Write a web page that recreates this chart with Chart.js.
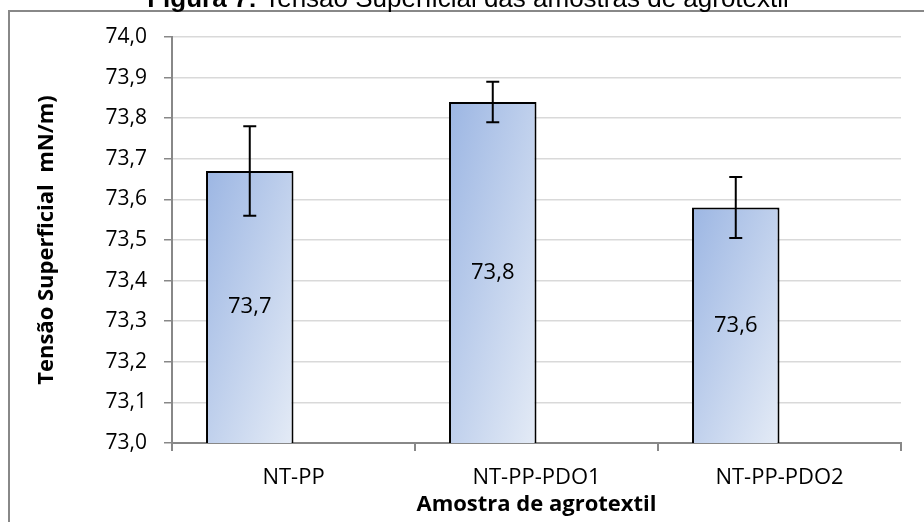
<!DOCTYPE html>
<html><head><meta charset="utf-8">
<script src="https://cdn.jsdelivr.net/npm/chart.js@4.4.0/dist/chart.umd.min.js"></script>
<style>html,body{margin:0;padding:0;background:#fff;overflow:hidden}#wrap{position:relative;width:924px;height:522px}</style>
</head><body><div id="wrap"><canvas id="c" width="924" height="522"></canvas></div>
<script>
// ---- data ----
const categories = ['NT-PP', 'NT-PP-PDO1', 'NT-PP-PDO2'];
const values = [73.67, 73.84, 73.58];
const errors = [0.11, 0.05, 0.075];
const yTicks = [73.0, 73.1, 73.2, 73.3, 73.4, 73.5, 73.6, 73.7, 73.8, 73.9, 74.0];
const titleBold = 'Figura 7:';
const titleRest = ' Tensão Superficial das amostras de agrotextil';
const yTitle = 'Tensão Superficial  mN/m)';
const xTitle = 'Amostra de agrotextil';

const fmt = v => v.toFixed(1).replace('.', ',');
const FONT = '"Open Sans", "Noto Sans", sans-serif';
const CAT_PCT = 0.72;
const BAR_PCT = 1.0;

const framePlugin = {
  id: 'frame',
  beforeDraw(chart) {
    const c = chart.ctx;
    c.save();
    c.strokeStyle = '#888888';
    c.lineWidth = 2;
    c.beginPath();
    c.moveTo(9, 600); c.lineTo(9, 11); c.lineTo(1000, 11);
    c.stroke();
    c.fillStyle = '#000';
    c.textBaseline = 'alphabetic';
    c.textAlign = 'left';
    c.font = 'bold 26px "Liberation Sans", Arial, sans-serif';
    const w1 = c.measureText(titleBold).width;
    c.font = '26px "Liberation Sans", Arial, sans-serif';
    const w2 = c.measureText(titleRest).width;
    const x0 = 468 - (w1 + w2) / 2;
    c.font = 'bold 26px "Liberation Sans", Arial, sans-serif';
    c.fillText(titleBold, x0, 7);
    c.font = '26px "Liberation Sans", Arial, sans-serif';
    c.fillText(titleRest, x0 + w1, 7);
    c.restore();
  }
};

const marksPlugin = {
  id: 'marks',
  afterDatasetsDraw(chart) {
    const c = chart.ctx;
    const meta = chart.getDatasetMeta(0);
    const ys = chart.scales.y;
    const yBase = ys.getPixelForValue(ys.min);
    c.save();
    meta.data.forEach((el, i) => {
      const mid = (el.y + yBase) / 2;
      c.fillStyle = '#000';
      c.font = '22px ' + FONT;
      c.textAlign = 'center';
      c.textBaseline = 'middle';
      c.fillText(fmt(values[i]), el.x, mid);
      const yt = ys.getPixelForValue(values[i] + errors[i]);
      const yb = ys.getPixelForValue(values[i] - errors[i]);
      c.strokeStyle = '#000';
      c.lineWidth = 2;
      c.beginPath();
      c.moveTo(el.x, yt); c.lineTo(el.x, yb);
      c.moveTo(el.x - 6.5, yt); c.lineTo(el.x + 6.5, yt);
      c.moveTo(el.x - 6.5, yb); c.lineTo(el.x + 6.5, yb);
      c.stroke();
    });
    c.restore();
  }
};

// shape-relative diagonal gradient per bar, computed from the library's scales
const grad = (ctx) => {
  const chart = ctx.chart;
  const xs = chart.scales.x, ys = chart.scales.y;
  const i = ctx.dataIndex;
  if (!xs || !ys || i === undefined || !isFinite(xs.width) || xs.width <= 0) return '#bccdeb';
  const catW = xs.width / categories.length;
  const slot = catW * CAT_PCT / 2;
  const cx = xs.getPixelForValue(i);
  const right = cx - slot * (1 - BAR_PCT) / 2;
  const left = cx - slot + slot * (1 - BAR_PCT) / 2;
  const top = ys.getPixelForValue(values[i]);
  const bottom = ys.getPixelForValue(ys.min);
  if (![left, right, top, bottom].every(isFinite)) return '#bccdeb';
  const w = Math.max(1, right - left), h = Math.max(1, bottom - top);
  const dx = 1 / w, dy = 1 / h, d2 = dx * dx + dy * dy;
  const g = chart.ctx.createLinearGradient(left, top, left + 2 * dx / d2, top + 2 * dy / d2);
  g.addColorStop(0, '#9cb6e3');
  g.addColorStop(1, '#e4ebf6');
  return g;
};

const chart = new Chart(document.getElementById('c'), {
  type: 'bar',
  data: {
    labels: categories,
    datasets: [
      { data: values, backgroundColor: grad, borderColor: '#000', borderWidth: 2,
        categoryPercentage: CAT_PCT, barPercentage: BAR_PCT },
      { data: categories.map(() => null), categoryPercentage: CAT_PCT, barPercentage: BAR_PCT }
    ]
  },
  options: {
    responsive: false,
    animation: false,
    devicePixelRatio: 1,
    layout: { padding: { left: 0, top: 37, right: 23, bottom: 0 } },
    plugins: { legend: { display: false }, tooltip: { enabled: false }, title: { display: false } },
    scales: {
      x: {
        grid: { offset: true, drawOnChartArea: false, tickLength: 8, tickColor: '#888888', lineWidth: 2 },
        border: { color: '#888888', width: 2 },
        ticks: { color: '#000', font: { family: FONT, size: 22 }, padding: 14, maxRotation: 0 },
        title: { display: true, text: xTitle, color: '#000', font: { family: FONT, size: 22, weight: 'bold' }, padding: { top: 0, bottom: 4 } },
        afterFit: s => { s.height = 79; }
      },
      y: {
        min: 73, max: 74,
        afterBuildTicks: s => { s.ticks = yTicks.map(v => ({ value: v })); },
        grid: { color: '#d9d9d9', lineWidth: 1.5, tickLength: 8, tickColor: '#888888' },
        border: { color: '#888888', width: 2 },
        ticks: { color: '#000', font: { family: FONT, size: 21 }, padding: 17, callback: v => fmt(v) },
        title: { display: true, text: yTitle, color: '#000', font: { family: FONT, size: 22, weight: 'bold' }, padding: { top: 34, bottom: 0 } },
        afterFit: s => { s.width = 172; }
      }
    }
  },
  plugins: [framePlugin, marksPlugin]
});
chart.update('none');
</script>
</body></html>
